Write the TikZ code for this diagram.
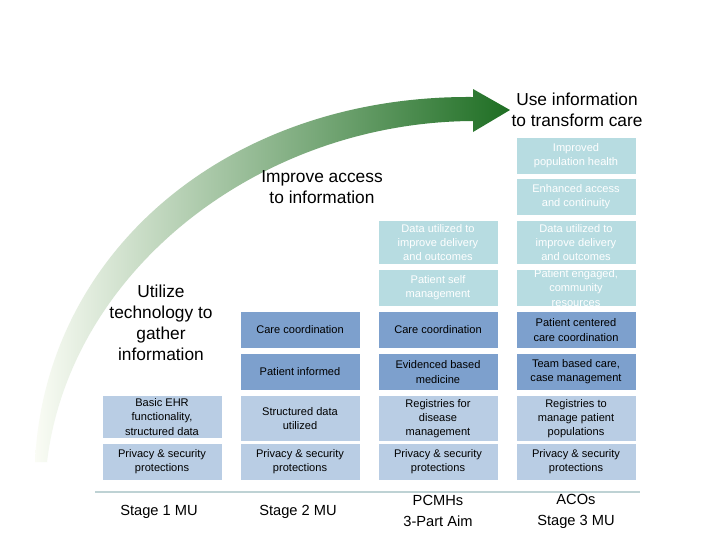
\documentclass[tikz,border=0pt]{standalone}
\usepackage{fontspec}
\setmainfont{Liberation Sans}
\begin{document}
\begin{tikzpicture}[x=0.75pt,y=-0.75pt,
  box/.style={minimum width=89.25pt,inner sep=0pt,align=center,font=\fontsize{8.3}{10.6}\selectfont},
  teal/.style={box,fill={rgb,255:red,183;green,220;blue,225},text=white},
  mid/.style={box,fill={rgb,255:red,125;green,160;blue,205},text=black},
  light/.style={box,fill={rgb,255:red,185;green,205;blue,228},text=black},
  head/.style={align=center,font=\fontsize{13}{15.75}\selectfont},
  stage/.style={align=center,font=\fontsize{11}{15.75}\selectfont}]
\useasboundingbox (0,0) rectangle (720,540);
\fill[white] (0,0) rectangle (720,540);
% arrow
\shade[left color={rgb,255:red,250;green,252;blue,245},middle color={rgb,255:red,170;green,200;blue,130},right color={rgb,255:red,30;green,110;blue,35}]
 (35,462) .. controls (45,250) and (230,95) .. (473,97) -- (473,89) -- (510,110) -- (473,132) -- (473,121)
 .. controls (260,122) and (70,270) .. (47,462) -- cycle;
% headings
\node[head] (h1) at (161,323) {Utilize\\technology to\\gather\\information};
\node[head] (h2) at (322,187) {Improve access\\to information};
\node[head] (h3) at (577,110) {Use information\\to transform care};
\node[teal,minimum height=27pt] (d1) at (576,156) {Improved\\population health};
\node[teal,minimum height=27pt] (d2) at (576,197) {Enhanced access\\and continuity};
\node[teal,minimum height=32pt] (c3a) at (438,242.5) {Data utilized to\\improve delivery\\and outcomes};
\node[teal,minimum height=32pt] (d3) at (576,242.5) {Data utilized to\\improve delivery\\and outcomes};
\node[teal,minimum height=27pt] (c4) at (438,288) {Patient self\\management};
\node[teal,minimum height=27pt] (d4) at (576,288) {Patient engaged,\\community\\resources};
\node[mid,minimum height=27pt] (b5) at (300,330) {Care coordination};
\node[mid,minimum height=27pt] (c5) at (438,330) {Care coordination};
\node[mid,minimum height=27pt] (d5) at (576,330) {Patient centered\\care coordination};
\node[mid,minimum height=27pt] (b6) at (300,372) {Patient informed};
\node[mid,minimum height=27pt] (c6) at (438,372) {Evidenced based\\medicine};
\node[mid,minimum height=27pt] (d6) at (576,372) {Team based care,\\case management};
\node[light,minimum height=31.5pt] (a7) at (162,417) {Basic EHR\\functionality,\\structured data};
\node[light,minimum height=33.75pt] (b7) at (300,418.5) {Structured data\\utilized};
\node[light,minimum height=33.75pt] (c7) at (438,418.5) {Registries for\\disease\\management};
\node[light,minimum height=33.75pt] (d7) at (576,418.5) {Registries to\\manage patient\\populations};
\foreach \n/\x in {a8/162,b8/300,c8/438,d8/576}
  \node[light,minimum height=27pt] (\n) at (\x,461.5) {Privacy \& security\\protections};
% baseline
\coordinate (l1) at (95,492);
\coordinate (l2) at (640,492);
\draw[line width=1.5pt,color={rgb,255:red,190;green,210;blue,212}] (l1) -- (l2);
\node[stage] (s1) at (159,512) {Stage 1 MU};
\node[stage] (s2) at (298,512) {Stage 2 MU};
\node[stage] (s3) at (438,511) {PCMHs\\3-Part Aim};
\node[stage] (s4) at (576,511) {ACOs\\Stage 3 MU};
\end{tikzpicture}
\end{document}
